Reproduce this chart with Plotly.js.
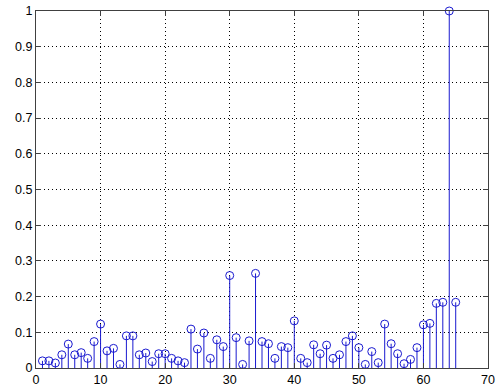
<!DOCTYPE html>
<html>
<head>
<meta charset="utf-8">
<script src="https://cdn.plot.ly/plotly-3.0.1.min.js"></script>
<style>html,body{margin:0;padding:0;background:#fff;}#chart{width:497px;height:390px;}</style>
</head>
<body>
<div id="chart"></div>
<script>
const xValues = [1,2,3,4,5,6,7,8,9,10,11,12,13,14,15,16,17,18,19,20,21,22,23,24,25,26,27,28,29,30,31,32,33,34,35,36,37,38,39,40,41,42,43,44,45,46,47,48,49,50,51,52,53,54,55,56,57,58,59,60,61,62,63,64,65];
const yValues = [0.02,0.02,0.014,0.037,0.067,0.037,0.043,0.027,0.074,0.123,0.048,0.055,0.01,0.09,0.09,0.037,0.042,0.018,0.04,0.04,0.027,0.02,0.015,0.109,0.053,0.098,0.027,0.079,0.06,0.259,0.085,0.01,0.076,0.265,0.074,0.068,0.027,0.06,0.057,0.132,0.027,0.015,0.065,0.04,0.064,0.027,0.037,0.074,0.09,0.057,0.01,0.046,0.015,0.123,0.068,0.04,0.012,0.024,0.057,0.121,0.125,0.181,0.184,1.0,0.184];
const xTicks = [0,10,20,30,40,50,60,70];
const yTicks = [0,0.1,0.2,0.3,0.4,0.5,0.6,0.7,0.8,0.9,1];
const yTickLabels = ['0','0.1','0.2','0.3','0.4','0.5','0.6','0.7','0.8','0.9','1'];

const stemX = [], stemY = [];
xValues.forEach((x, i) => { stemX.push(x, x, null); stemY.push(0, yValues[i], null); });

const blue = '#1a1ad0';
const data = [
  {x: stemX, y: stemY, mode: 'lines', type: 'scatter', line: {color: blue, width: 1}, hoverinfo: 'skip', cliponaxis: false},
  {x: xValues, y: yValues, mode: 'markers', type: 'scatter', cliponaxis: false,
   marker: {symbol: 'circle-open', size: 8, color: blue, line: {color: blue, width: 1}}}
];
const axisCommon = {
  showline: true, linecolor: '#404040', linewidth: 1, mirror: 'ticks',
  ticks: 'inside', ticklen: 5, tickcolor: '#404040', tickwidth: 1,
  showgrid: true, gridcolor: '#000', griddash: '1px,3px', gridwidth: 1,
  zeroline: false, tickfont: {family: 'Liberation Sans, Arial, sans-serif', size: 12.5, color: '#000'}
};
const layout = {
  width: 497, height: 390,
  margin: {l: 36, r: 9, t: 11, b: 22},
  paper_bgcolor: '#fff', plot_bgcolor: '#fff',
  showlegend: false,
  xaxis: Object.assign({}, axisCommon, {range: [0, 70], tickvals: xTicks, ticktext: xTicks.map(String)}),
  yaxis: Object.assign({}, axisCommon, {range: [0, 1], tickvals: yTicks, ticktext: yTickLabels})
};
Plotly.newPlot('chart', data, layout, {staticPlot: true});
</script>
</body>
</html>
